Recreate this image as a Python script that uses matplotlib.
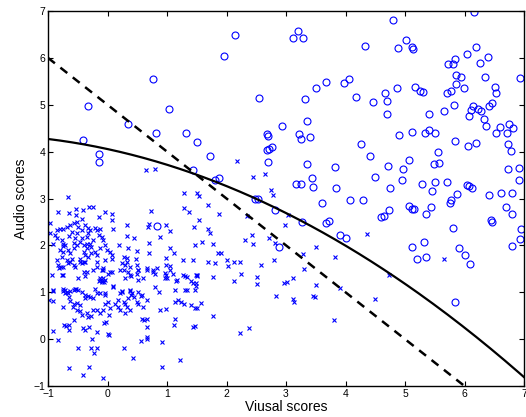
import numpy as np
import matplotlib
matplotlib.use("Agg")
import matplotlib.pyplot as plt

plt.rcParams['font.family'] = ['Liberation Sans', 'DejaVu Sans']

# class 1 (crosses)
cross_pts = [
    (0.64, 3.61), (0.79, 3.62), (-0.67, 3.03), (1.29, 3.12), (1.50, 3.12), (1.29, 2.80), (1.37, 2.71),
    (1.54, 2.55), (1.46, 2.40), (0.73, 2.74), (0.69, 2.45), (0.68, 2.39), (0.98, 2.44), (1.05, 2.30),
    (0.88, 2.18), (0.32, 2.43), (0.32, 2.20), (0.45, 2.16), (0.70, 2.06), (0.70, 1.84), (1.05, 1.94),
    (1.11, 1.84), (1.27, 1.69), (1.44, 1.69), (1.47, 2.01), (0.99, 1.73), (0.49, 1.89), (0.48, 1.72),
    (0.32, 1.74), (0.27, 1.76), (0.35, 1.95), (0.20, 2.01), (0.08, 2.68), (0.08, 2.54), (0.10, 2.35),
    (-0.04, 2.72), (-0.15, 2.60), (-0.24, 2.81), (-0.31, 2.81), (-0.42, 2.75), (-0.53, 2.77),
    (-0.64, 2.69), (-0.84, 2.71), (-0.53, 2.64), (-0.43, 2.57),
    (2.18, 3.81), (2.65, 3.53), (2.44, 3.45), (2.74, 3.18), (2.78, 3.07), (1.54, 3.05), (1.69, 2.86),
    (1.87, 2.67), (2.34, 2.62), (3.03, 2.64), (2.98, 2.43), (1.69, 2.35), (1.72, 2.27), (1.58, 2.08),
    (1.77, 2.03), (2.31, 2.11), (2.43, 2.23), (2.44, 2.02), (2.71, 2.16), (2.82, 2.06), (1.86, 1.83),
    (1.91, 1.83), (2.00, 1.69), (1.69, 1.64), (1.81, 1.62), (2.13, 1.64), (2.23, 1.64), (2.79, 1.69),
    (3.29, 1.81), (3.50, 1.96), (3.82, 1.75),
    (4.36, 2.24), (5.66, 1.72), (4.73, 1.36), (4.49, 0.85),
    (2.02, 1.56), (2.58, 1.58), (1.50, 1.35), (1.48, 1.19), (1.48, 1.13), (1.78, 1.32), (2.13, 1.25),
    (2.24, 1.39), (2.51, 1.32), (2.52, 1.17), (2.96, 1.19), (3.01, 1.21), (3.11, 1.30), (3.30, 1.49),
    (3.50, 1.15), (3.46, 0.92), (3.48, 0.89), (2.83, 0.93), (3.11, 0.85), (3.14, 0.80), (3.90, 1.10),
    (3.81, 0.41), (1.57, 0.78), (1.50, 0.66), (1.77, 0.49), (1.47, 0.28), (2.22, 0.14), (2.38, 0.24),
    (-0.92, 0.18), (-0.84, -0.02), (-0.64, -0.62), (-0.41, -0.77), (-0.31, -0.59), (-0.49, -0.18),
    (-0.27, -0.18), (-0.17, -0.18), (-0.22, -0.29), (-0.26, 0.00), (-0.07, -0.82), (0.00, 0.12),
    (0.02, 0.09), (0.28, -0.18), (0.42, -0.40), (0.57, -0.04), (0.67, 0.05), (0.67, 0.00),
    (0.92, -0.06), (0.91, -0.59), (1.22, -0.45), (1.44, 0.26), (1.11, 0.30), (1.14, 0.44),
    (0.66, 0.26), (0.58, 0.42), (0.62, 0.40), (0.66, 0.43), (0.88, 0.62), (0.99, 0.64),
    (-0.98, 0.83), (-0.92, 0.82), (-0.91, 1.03), (-0.75, 0.68), (-0.73, 0.30), (-0.70, 0.28),
    (-0.64, 0.19), (-0.64, 0.31), (-0.57, 0.41), (-0.41, 0.23), (-0.38, 0.19), (-0.31, 0.26),
    (-0.18, 0.16), (-0.06, 0.34), (0.03, 0.51), (-0.02, 0.37),
    (-0.94, 1.37), (-0.81, 1.51), (-0.78, 1.54), (-0.74, 1.53), (-0.83, 1.58), (-0.67, 1.63),
    (-0.63, 1.65), (-0.57, 1.58), (-0.55, 1.53), (-0.43, 1.62), (-0.38, 1.65), (-0.46, 1.65),
    (-0.74, 1.37), (-0.39, 1.44), (-0.24, 1.47), (-0.18, 1.54), (-0.10, 1.47), (-0.07, 1.51),
    (0.01, 1.40), (0.07, 1.44), (-0.08, 1.30), (-0.13, 1.26), (-0.10, 1.23), (-0.06, 1.21),
    (-0.15, 1.23), (0.10, 1.13), (0.21, 1.47), (0.30, 1.58), (0.32, 1.65), (0.24, 1.62),
    (0.38, 1.37), (0.49, 1.40), (0.52, 1.47), (0.49, 1.58), (0.38, 1.54), (0.66, 1.51),
    (0.77, 1.47), (0.80, 1.40), (0.83, 1.51), (0.99, 1.58), (1.05, 1.47), (1.10, 1.40),
    (0.98, 1.37), (0.97, 1.30), (1.16, 1.26), (1.15, 1.23), (1.27, 1.37), (1.30, 1.35),
    (1.33, 1.33), (1.41, 1.23), (1.44, 1.19), (1.50, 1.37), (1.13, 0.80), (1.19, 0.83),
    (1.24, 0.80), (1.28, 0.76), (1.40, 0.73), (1.47, 0.66), (1.33, 1.05),
    (-0.74, 1.02), (-0.71, 1.05), (-0.68, 1.00), (-0.66, 0.98), (-0.63, 1.02), (-0.57, 1.04),
    (-0.53, 1.07), (-0.64, 0.90), (-0.63, 0.82), (-0.57, 0.76), (-0.52, 0.78), (-0.46, 0.73),
    (-0.58, 0.69), (-0.52, 0.62), (-0.46, 0.59), (-0.43, 0.52), (-0.35, 0.55), (-0.32, 0.48),
    (-0.27, 0.49), (-0.24, 0.62), (-0.18, 0.62), (-0.12, 0.55), (-0.07, 0.62), (-0.04, 0.76),
    (0.01, 0.80), (0.04, 0.66), (-0.18, 0.98), (-0.12, 0.98), (-0.04, 0.98), (-0.24, 0.87),
    (-0.29, 0.90), (-0.38, 0.87), (0.12, 0.76), (0.18, 0.83), (0.21, 0.98), (0.24, 1.02),
    (0.27, 0.80), (0.30, 0.76), (0.35, 0.87), (0.38, 1.02), (0.41, 0.98), (0.44, 0.90),
    (0.49, 0.80), (0.52, 0.76), (0.58, 0.94), (0.66, 0.83), (0.60, 0.69), (0.38, 0.62),
    (0.32, 0.69), (0.30, 0.55), (0.21, 0.62), (0.18, 0.69),
    (-0.92, 1.05), (-0.75, 1.08), (-0.55, 1.08), (-0.49, 1.05), (-0.21, 1.08), (0.10, 1.11),
    (0.80, 1.11), (-0.38, 1.34), (-0.12, 1.30), (-0.09, 1.22), (-0.04, 1.26), (-0.49, 1.30),
    (-0.77, 1.37), (0.29, 1.30), (0.40, 1.34), (0.52, 1.26), (0.60, 1.31), (0.97, 1.41),
    (1.00, 1.30), (1.49, 1.36), (-0.71, 0.98), (-0.43, 1.01), (-0.38, 0.94), (-0.32, 0.91),
    (-0.04, 0.94), (0.24, 1.01), (0.38, 1.05), (0.40, 0.94), (0.52, 1.01), (0.57, 0.91),
    (0.86, 1.01), (1.13, 1.05), (1.30, 1.05), (1.47, 1.05), (-0.35, 1.44), (-0.07, 1.48),
    (0.04, 1.44), (0.27, 1.48), (0.35, 1.44), (0.52, 1.48), (0.66, 1.48), (0.77, 1.44),
    (1.05, 1.55),
    (-0.97, 2.26), (-0.88, 2.22), (-0.85, 2.15), (-0.91, 2.04), (-0.77, 2.11), (-0.74, 2.04),
    (-0.75, 1.99), (-0.71, 2.01), (-0.80, 1.90), (-0.74, 1.86), (-0.66, 1.90), (-0.63, 1.83),
    (-0.57, 1.94), (-0.52, 2.01), (-0.46, 2.08), (-0.43, 2.15), (-0.35, 2.18), (-0.32, 2.26),
    (-0.29, 2.33), (-0.21, 2.38), (-0.18, 2.33), (-0.12, 2.34), (-0.15, 2.22), (-0.10, 2.18),
    (-0.07, 2.11), (-0.24, 2.11), (-0.29, 2.04), (-0.27, 1.97), (-0.35, 1.94), (-0.40, 1.86),
    (-0.38, 1.79), (-0.32, 1.76), (-0.27, 1.83), (-0.21, 1.86), (-0.18, 1.79), (-0.12, 1.94),
    (-0.04, 2.01), (-0.01, 1.90), (0.04, 1.86), (0.07, 1.79), (-0.46, 1.72), (-0.60, 1.72),
    (-0.68, 1.69), (-0.77, 1.76), (-0.85, 1.69), (-0.40, 1.65), (-0.18, 1.65), (-0.04, 1.69),
    (0.07, 1.72), (-0.74, 2.34), (-0.68, 2.40), (-0.63, 2.43), (-0.57, 2.47), (-0.52, 2.50),
    (-0.49, 2.40), (-0.43, 2.33), (-0.38, 2.43), (-0.32, 2.38), (-0.80, 2.36), (-0.85, 2.33),
    (-0.60, 2.29), (-0.64, 2.20), (-0.52, 2.26), (-0.55, 2.15), (-0.57, 2.06), (-0.40, 2.01),
    (-0.34, 2.04), (-0.97, 2.47),
]

# class 2 (circles)
circle_pts = [
    (-0.32, 4.98), (0.35, 4.60), (0.76, 5.55), (1.04, 4.91), (0.82, 4.40), (1.32, 4.39),
    (2.14, 6.49), (1.95, 6.04), (3.11, 6.43), (3.20, 6.58), (3.28, 6.43), (4.32, 6.25), (2.55, 5.14),
    (3.32, 5.13), (3.50, 5.35), (3.67, 5.49), (3.98, 5.47), (4.06, 5.56), (4.18, 5.17), (3.36, 4.65),
    (2.93, 4.54), (2.68, 4.37), (3.22, 4.37), (3.40, 4.32),
    (6.16, 6.97), (4.79, 6.80), (5.01, 6.39), (4.89, 6.21), (5.11, 6.23), (5.14, 6.19), (6.20, 6.24),
    (6.05, 6.08), (6.40, 6.01), (6.26, 5.89), (5.84, 5.98), (5.73, 5.87), (5.81, 5.86), (5.85, 5.63),
    (5.94, 5.59), (6.34, 5.60), (6.93, 5.58), (5.86, 5.44), (5.99, 5.35), (5.78, 5.29), (5.71, 5.26),
    (6.52, 5.37), (6.53, 5.26), (5.16, 5.37), (5.25, 5.29), (5.31, 5.27), (4.86, 5.35), (4.66, 5.25),
    (4.69, 5.08), (4.46, 5.06), (4.69, 4.81), (5.41, 4.81), (5.66, 4.86), (5.82, 5.00), (6.15, 4.98),
    (6.11, 4.88), (6.22, 4.91), (6.27, 4.86), (6.08, 4.76), (6.41, 4.97), (6.47, 5.03), (6.32, 4.69),
    (6.36, 4.54), (6.74, 4.58), (6.82, 4.50), (6.60, 4.53), (6.53, 4.40), (6.71, 4.39), (5.41, 4.47),
    (5.34, 4.40), (5.51, 4.40), (5.12, 4.42), (4.90, 4.36),
    (-0.41, 4.25), (-0.14, 3.96), (-0.15, 3.78), (1.50, 4.21), (1.44, 3.61), (0.83, 2.42),
    (2.69, 4.33), (3.25, 4.26), (4.26, 4.17), (1.73, 3.90), (2.68, 4.04), (2.71, 4.06), (2.77, 4.10),
    (2.69, 3.78), (3.36, 3.73), (3.82, 3.68), (3.43, 3.43), (3.17, 3.30), (3.25, 3.30), (3.45, 3.25),
    (3.84, 3.23), (1.81, 3.40), (1.87, 3.43), (2.48, 2.99), (2.53, 3.00), (2.82, 2.75), (3.60, 2.90),
    (4.08, 2.96), (4.30, 2.96), (3.27, 2.49), (3.67, 2.48), (3.73, 2.52), (3.91, 2.23), (4.01, 2.15),
    (2.88, 1.96),
    (4.42, 3.90), (4.71, 3.70), (4.97, 3.63), (5.06, 3.82), (5.55, 3.99), (5.84, 4.22), (6.06, 4.13),
    (6.19, 4.18), (6.73, 4.16), (6.78, 4.02), (5.49, 3.73), (5.57, 3.75), (6.92, 3.66), (6.73, 3.63),
    (4.50, 3.45), (4.95, 3.39), (4.75, 3.23), (5.28, 3.31), (5.51, 3.36), (5.70, 3.36), (5.45, 3.16),
    (6.91, 3.39), (6.05, 3.29), (6.08, 3.27), (6.12, 3.23), (5.87, 3.09), (6.41, 3.07), (6.62, 3.12),
    (6.79, 3.12), (5.75, 2.91), (5.78, 2.96), (5.43, 2.81), (5.06, 2.85), (5.11, 2.78), (5.15, 2.77),
    (4.73, 2.75), (4.60, 2.60), (4.65, 2.62), (5.36, 2.67), (6.69, 2.81), (6.79, 2.67), (6.45, 2.55),
    (6.46, 2.49), (5.81, 2.37), (6.95, 2.34), (6.94, 2.13), (6.80, 1.99), (5.32, 2.07), (5.12, 1.97),
    (5.91, 1.94), (6.01, 1.80), (5.20, 1.72), (5.36, 1.75), (6.09, 1.60), (5.84, 0.80),
]

# boundaries: quadratic (solid) and linear (dashed)
quad_coef = [4.055, -0.275, -0.060]   # a + b*x + c*x^2
lin_coef = [5.0, -1.0]                # a + b*x
lin_x_range = [-1, 6]

cx, cy = zip(*cross_pts)
ox, oy = zip(*circle_pts)

fig = plt.figure(figsize=(5.26, 4.17), dpi=100)
ax = fig.add_axes([0.0913, 0.0743, 0.9049, 0.8993])

ax.plot(cx, cy, 'x', color='#0000ff', markersize=3.2, markeredgewidth=0.8)
ax.plot(ox, oy, 'o', color='#0000ff', markerfacecolor='none', markersize=5, markeredgewidth=0.8)

xq = np.linspace(-1, 7, 200)
ax.plot(xq, quad_coef[0] + quad_coef[1] * xq + quad_coef[2] * xq ** 2, '-', color='black', linewidth=1.6)
xl = np.array(lin_x_range)
ax.plot(xl, lin_coef[0] + lin_coef[1] * xl, '--', color='black', linewidth=1.8, dashes=(3.5, 2.8))

ax.set_xlim(-1, 7)
ax.set_ylim(-1, 7)
ax.set_xticks(range(-1, 8))
ax.set_yticks(range(-1, 8))
ax.tick_params(direction='in', top=True, right=True, length=3.5, width=0.8, labelsize=7.5, pad=2)
for s in ax.spines.values():
    s.set_linewidth(1.0)

ax.set_xlabel("Viusal scores", fontsize=10, labelpad=1)
ax.set_ylabel("Audio scores", fontsize=10, labelpad=4)

fig.savefig("out.png", dpi=100)
